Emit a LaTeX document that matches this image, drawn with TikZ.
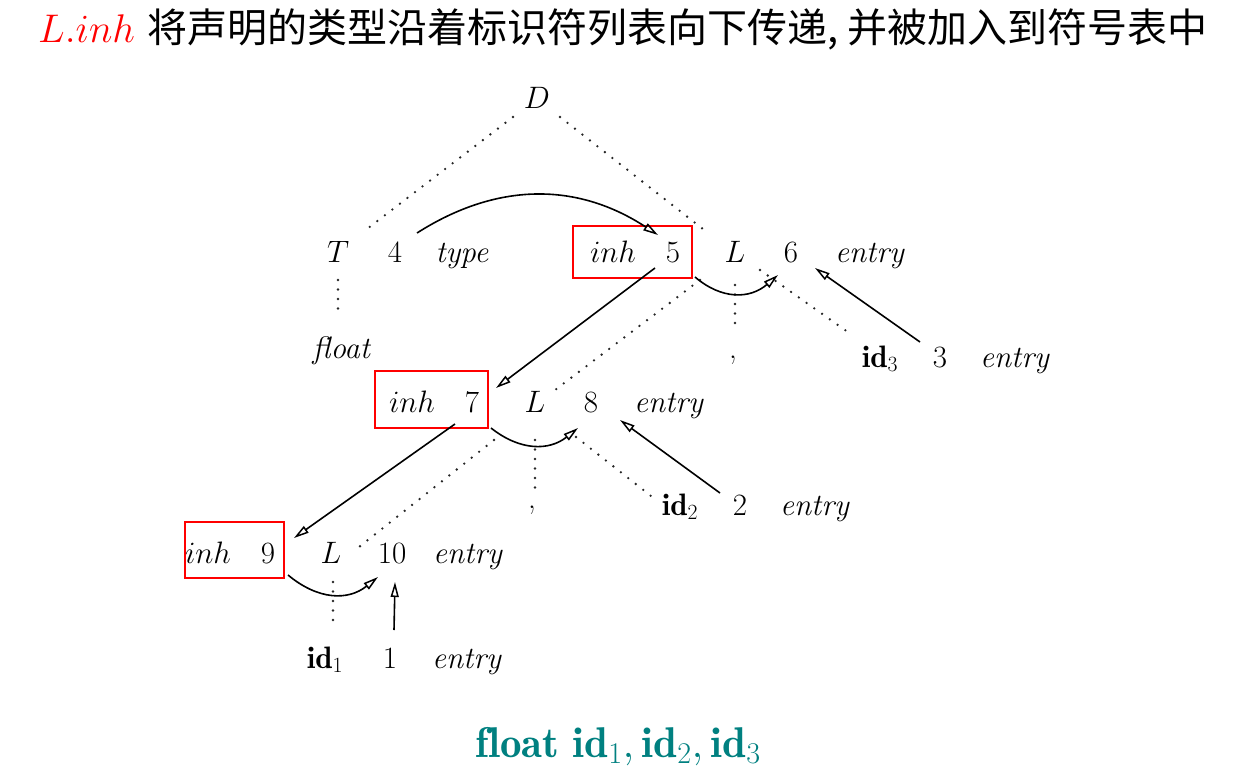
\documentclass[tikz,border=0pt]{standalone}
\usepackage{fix-cm}
\usepackage{fontspec}
\newfontfamily\cjk{Noto Sans CJK SC}
\usetikzlibrary{arrows.meta}
\definecolor{tealtxt}{RGB}{0,128,128}
\begin{document}
\begin{tikzpicture}[x=1pt,y=-1pt,
  lbl/.style={anchor=base, inner sep=0pt, font=\fontsize{31}{37}\selectfont},
  redbox/.style={draw=red, line width=2.8pt, inner sep=0pt},
  dotline/.style={line width=2.6pt, line cap=round, dash pattern=on 0pt off 9.5pt, black!85},
  arr/.style={line width=1.6pt, -{Triangle[open, length=15pt, width=8pt, line width=1.5pt]}}
]
\useasboundingbox (0,0) rectangle (1248,777);

% title
\node[anchor=base west, inner sep=0pt, font=\fontsize{40}{47}\selectfont] (title) at (38,42)
  {\textcolor{red}{$L.inh$} {\cjk 将声明的类型沿着标识符列表向下传递, 并被加入到符号表中}};

% red boxes
\node[redbox, minimum width=119pt, minimum height=52pt] (box5) at (632.5,252) {};
\node[redbox, minimum width=113pt, minimum height=57pt] (box7) at (431.5,399.5) {};
\node[redbox, minimum width=99pt, minimum height=56pt] (box9) at (234.5,550) {};

% row 1
\node[lbl] (D) at (537,108) {$D$};
% row 2
\node[lbl] (T) at (338,262) {$T$};
\node[lbl] (n4) at (395,262) {4};
\node[lbl] (type) at (462,262) {\textit{type}};
\node[lbl] (inh5) at (613,262) {$inh$};
\node[lbl] (n5) at (673,262) {5};
\node[lbl] (L5) at (735,262) {$L$};
\node[lbl] (n6) at (791,262) {6};
\node[lbl] (e6) at (870,262) {\textit{entry}};
% row 3
\node[lbl] (float) at (342,358) {\textit{float}};
\node[lbl] (c6) at (733,358) {,};
\node[lbl] (id3) at (880,367) {$\mathbf{id}_3$};
\node[lbl] (n3) at (940,367) {3};
\node[lbl] (e3) at (1015,367) {\textit{entry}};
% row 4
\node[lbl] (inh7) at (412,412) {$inh$};
\node[lbl] (n7) at (472,412) {7};
\node[lbl] (L7) at (535,412) {$L$};
\node[lbl] (n8) at (591,412) {8};
\node[lbl] (e8) at (669,412) {\textit{entry}};
% row 5
\node[lbl] (c8) at (532,508) {,};
\node[lbl] (id2) at (680,515) {$\mathbf{id}_2$};
\node[lbl] (n2) at (740,515) {2};
\node[lbl] (e2) at (815,515) {\textit{entry}};
% row 6
\node[lbl] (inh9) at (208,563) {$inh$};
\node[lbl] (n9) at (268,563) {9};
\node[lbl] (L9) at (331,563) {$L$};
\node[lbl] (n10) at (392,563) {10};
\node[lbl] (e10) at (468,563) {\textit{entry}};
% row 7
\node[lbl] (id1) at (325,668) {$\mathbf{id}_1$};
\node[lbl] (n1) at (390,668) {1};
\node[lbl] (e1) at (467,668) {\textit{entry}};

% bottom
\node[anchor=base, inner sep=0pt, font=\fontsize{43}{49}\selectfont, text=tealtxt] (decl) at (618,757)
  {$\mathbf{float\ id}_1, \mathbf{id}_2, \mathbf{id}_3$};

% dotted tree edges
\draw[dotline] ([shift={(-24,9)}]D.base) -- ([shift={(25,-30)}]T.base);
\draw[dotline] ([shift={(23,9)}]D.base) -- ([shift={(-27,-29)}]L5.base);
\draw[dotline] ([shift={(0,18)}]T.base) -- ([shift={(-4,-40)}]float.base);
\draw[dotline] ([shift={(0,23)}]L5.base) -- ([shift={(2,-28)}]c6.base);
\draw[dotline] ([shift={(25,8)}]L5.base) -- ([shift={(-28,-32)}]id3.base);
\draw[dotline] ([shift={(-35,18)}]L5.base) -- ([shift={(20,-22)}]L7.base);
\draw[dotline] ([shift={(0,28)}]L7.base) -- ([shift={(3,-18)}]c8.base);
\draw[dotline] ([shift={(41,25)}]L7.base) -- ([shift={(-29,-19)}]id2.base);
\draw[dotline] ([shift={(-41,28)}]L7.base) -- ([shift={(28,-16)}]L9.base);
\draw[dotline] ([shift={(2,19)}]L9.base) -- ([shift={(8,-46)}]id1.base);

% dependency arrows
\draw[arr] ([shift={(22,-29)}]n4.base) .. controls +(80,-51) and +(-81,-53) .. ([shift={(-15,-27)}]n5.base);
\draw[arr] ([shift={(-18,6)}]n5.base) -- ([shift={(24,-24)}]n7.base);
\draw[arr] ([shift={(22,15)}]n5.base) .. controls +(27,23) and +(-28,24) .. ([shift={(-13,13)}]n6.base);
\draw[arr] ([shift={(-20,-25)}]n3.base) -- ([shift={(24,6)}]n6.base);
\draw[arr] ([shift={(-17,12)}]n7.base) -- ([shift={(26,-25)}]n9.base);
\draw[arr] ([shift={(19,16)}]n7.base) .. controls +(29,23) and +(-29,23) .. ([shift={(-13,16)}]n8.base);
\draw[arr] ([shift={(-20,-22)}]n2.base) -- ([shift={(29,8)}]n8.base);
\draw[arr] ([shift={(20,12)}]n9.base) .. controls +(30,25) and +(-30,24) .. ([shift={(-14,14)}]n10.base);
\draw[arr] ([shift={(4,-38)}]n1.base) -- ([shift={(3,19)}]n10.base);
\end{tikzpicture}
\end{document}
